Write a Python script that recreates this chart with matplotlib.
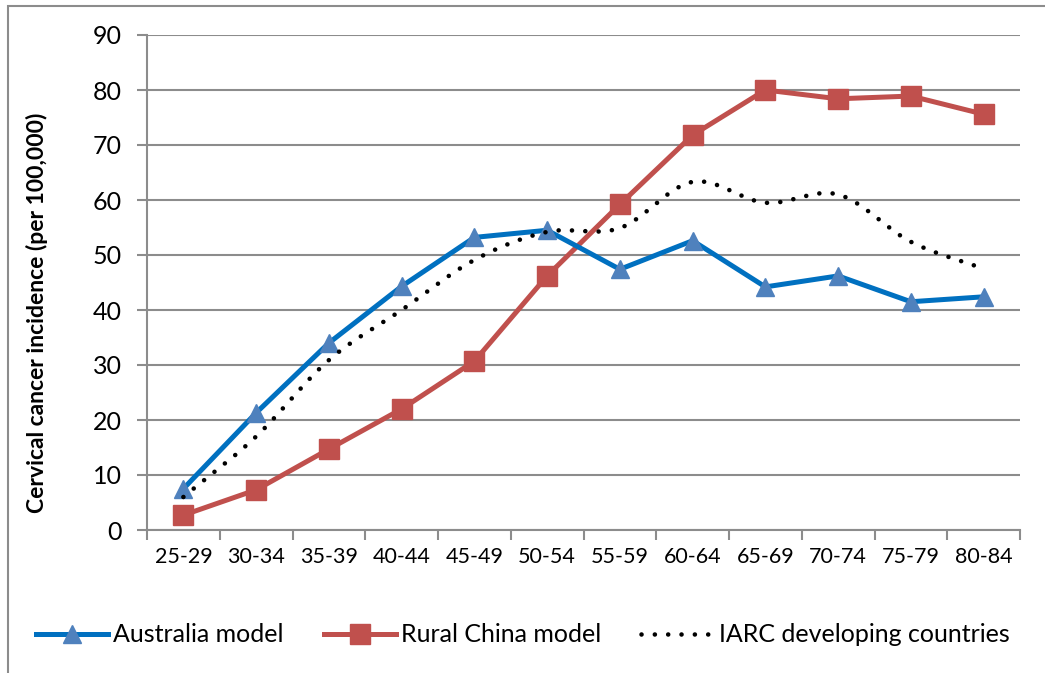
import numpy as np
import matplotlib
matplotlib.use("Agg")
import matplotlib.pyplot as plt
from matplotlib.patches import Rectangle

plt.rcParams['font.family'] = ['Lato', 'DejaVu Sans']

# age groups and incidence per 100,000
age_groups = ['25-29', '30-34', '35-39', '40-44', '45-49', '50-54',
              '55-59', '60-64', '65-69', '70-74', '75-79', '80-84']
australia = [7.5, 21.3, 34.0, 44.3, 53.2, 54.5, 47.4, 52.6, 44.2, 46.2, 41.5, 42.4]
rural_china = [2.7, 7.3, 14.7, 22.0, 30.7, 46.2, 59.2, 71.8, 80.0, 78.4, 78.9, 75.6]
iarc = [6.0, 17.0, 30.9, 40.0, 49.1, 54.2, 54.9, 63.3, 59.5, 61.0, 52.4, 47.5]


def smooth(xs, ys, n=20):
    # Catmull-Rom curve through the points (like Excel "smoothed line")
    xs = np.asarray(xs, float)
    ys = np.asarray(ys, float)
    px = np.concatenate([[2 * xs[0] - xs[1]], xs, [2 * xs[-1] - xs[-2]]])
    py = np.concatenate([[2 * ys[0] - ys[1]], ys, [2 * ys[-1] - ys[-2]]])
    ox, oy = [], []
    t = np.linspace(0, 1, n, endpoint=False)
    for i in range(1, len(px) - 2):
        for p, out in ((px, ox), (py, oy)):
            p0, p1, p2, p3 = p[i - 1], p[i], p[i + 1], p[i + 2]
            out.extend(0.5 * (2 * p1 + (-p0 + p2) * t
                              + (2 * p0 - 5 * p1 + 4 * p2 - p3) * t ** 2
                              + (-p0 + 3 * p1 - 3 * p2 + p3) * t ** 3))
    ox.append(xs[-1])
    oy.append(ys[-1])
    return np.array(ox), np.array(oy)


W, H = 1045, 673
fig = plt.figure(figsize=(W / 100, H / 100), dpi=100)
ax = fig.add_axes([147 / W, 1 - 530 / H, (1020 - 147) / W, (530 - 35) / H])

x = np.arange(len(age_groups))
grid_col = '#8c8c8c'

ax.plot(x, australia, color='#0070C0', lw=3.6, marker='^', ms=13,
        mfc='#4F81BD', mec='#4F81BD', label='Australia model', zorder=4)
ax.plot(x, rural_china, color='#C0504D', lw=3.6, marker='s', ms=15,
        mfc='#C0504D', mec='#C0504D', label='Rural China model', zorder=3)
sx, sy = smooth(x, iarc)
ax.plot(sx, sy, color='black', lw=3.3, linestyle=(0, (0.01, 2.9)),
        dash_capstyle='round', label='IARC developing countries', zorder=5)

ax.set_xlim(-0.5, 11.5)
ax.set_ylim(0, 90)
ax.set_yticks(np.arange(0, 91, 10))
ax.yaxis.grid(True, color=grid_col, lw=1.5)
ax.set_axisbelow(True)

ax.set_xticks(np.arange(-0.5, 12, 1))
ax.set_xticklabels([])
ax.set_xticks(x, minor=True)
ax.set_xticklabels(age_groups, minor=True, fontsize=15.5)
ax.tick_params(axis='x', which='major', length=7, width=1.5, color=grid_col, direction='out')
ax.tick_params(axis='x', which='minor', length=0, pad=12)
ax.tick_params(axis='y', length=7, width=1.5, color=grid_col, labelsize=18, pad=11)

for s in ['top', 'right']:
    ax.spines[s].set_visible(False)
for s in ['left', 'bottom']:
    ax.spines[s].set_color(grid_col)
    ax.spines[s].set_linewidth(1.5)

fig.text(37 / W, 1 - 313 / H, 'Cervical cancer incidence (per 100,000)',
         rotation=90, ha='center', va='center', fontsize=16.5, fontweight='bold')

fig.legend(loc='center', bbox_to_anchor=(0.5, 1 - 635 / H), ncol=3, frameon=False,
           fontsize=18, handlelength=2.9, handletextpad=0.2, columnspacing=1.6)

fig.patches.append(Rectangle((8 / W, -0.1), 1.2, 1 - 6 / H + 0.1, transform=fig.transFigure,
                             fill=False, ec='#8c8c8c', lw=1.5))

fig.savefig('out.png', dpi=100)
